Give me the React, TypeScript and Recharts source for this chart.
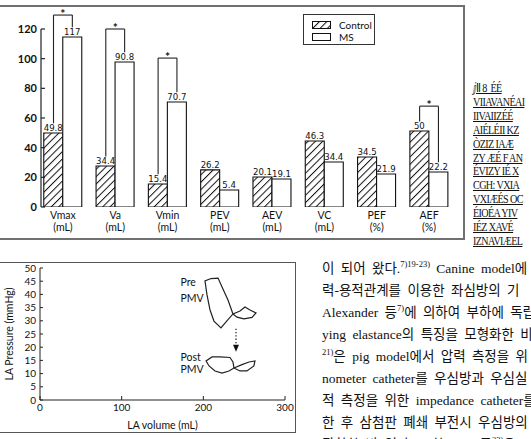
import React from "react";
import {
  BarChart,
  Bar,
  XAxis,
  YAxis,
  LabelList,
  Legend,
  ReferenceLine,
  ReferenceDot,
  ScatterChart,
  Scatter,
} from "recharts";

// top chart: LA volume indices, control vs MS
const categories = ["Vmax", "Va", "Vmin", "PEV", "AEV", "VC", "PEF", "AEF"];
const units = ["(mL)", "(mL)", "(mL)", "(mL)", "(mL)", "(mL)", "(%)", "(%)"];
// bar heights as drawn in the figure
const controlBars = [49.9, 27.6, 15.5, 25.0, 20.2, 44.5, 33.7, 51.2];
const msBars = [114.6, 97.8, 70.8, 11.5, 18.9, 30.3, 22.2, 23.6];
// printed values above the bars
const controlLabels = ["49.8", "34.4", "15.4", "26.2", "20.1", "46.3", "34.5", "50"];
const msLabels = ["117", "90.8", "70.7", "5.4", "19.1", "34.4", "21.9", "22.2"];
// significance brackets
const sigIndex = [0, 1, 2, 7];
const sigTop = [129.4, 120, 100.4, 68];
const yTicks = [0, 20, 40, 60, 80, 100, 120];

// bottom chart: LA pressure-volume loops
const preLoop = [
  { x: 236.3, y: 32.6 }, { x: 230.2, y: 37.9 }, { x: 222.9, y: 42.8 },
  { x: 218, y: 46.2 }, { x: 209.4, y: 46.0 }, { x: 202, y: 45.1 },
  { x: 204.5, y: 39.8 }, { x: 208.2, y: 34.1 }, { x: 213, y: 29.9 },
  { x: 221.6, y: 27.3 }, { x: 228.6, y: 29.9 }, { x: 236.3, y: 32.6 },
  { x: 244.9, y: 33.7 }, { x: 251, y: 35.2 }, { x: 257.1, y: 34.1 },
  { x: 264.5, y: 33.0 }, { x: 259.6, y: 31.3 }, { x: 249.8, y: 30.7 },
  { x: 241.2, y: 31.4 }, { x: 236.3, y: 32.6 },
];
const postLoop = [
  { x: 237.5, y: 12.1 }, { x: 236.3, y: 14.4 }, { x: 232.6, y: 16.1 },
  { x: 220.4, y: 16.3 }, { x: 210.6, y: 16.3 }, { x: 203.3, y: 14.8 },
  { x: 207, y: 12.9 }, { x: 214.3, y: 11.0 }, { x: 222.9, y: 10.2 },
  { x: 231.4, y: 11.0 }, { x: 237.5, y: 12.1 }, { x: 247.3, y: 13.4 },
  { x: 255.9, y: 14.4 }, { x: 263.2, y: 14.8 }, { x: 261.9, y: 12.9 },
  { x: 253.4, y: 11.0 }, { x: 244.9, y: 11.0 }, { x: 237.5, y: 12.1 },
];
const arrowHead = [{ x: 240, y: 19.6 }];
const pvXTicks = [0, 100, 200, 300];
const pvYTicks = [0, 5, 10, 15, 20, 25, 30, 35, 40, 45, 50];

const textLines = [
  ["이 되어 왔다.", "7)19-23)", " Canine model에"],
  ["력-용적관계를 이용한 좌심방의 기"],
  ["Alexander 등", "7)", "에 의하여 부하에 독립적"],
  ["ying elastance의 특징을 모형화한 비"],
  ["", "21)", "은 pig model에서 압력 측정을 위"],
  ["nometer catheter를 우심방과 우심실"],
  ["적 측정을 위한 impedance catheter를"],
  ["한 후 삼첨판 폐쇄 부전시 우심방의 압"],
  ["관찰한 바 있다. 또한 Heitz등", "23)", "은 can"],
];
const garbled = [
  "ⅉⅡ 8  ÉÉ", "VIIAVANÉAI", "IIVAIIZÉÉ", "AIÉLÉII KZ", "ÒZIZ IAÆ",
  "ZY ÆÉ F AN", "ÉVIZY IÉ X", "CGH: VXIA", "VXIÆÉS OC", "ÉIOÉA YIV",
  "IÉZ XAVÉ", "IZNAVIÆEL",
];

const barData = categories.map((c, i) => ({
  pos: i + 0.5,
  name: c,
  control: controlBars[i],
  ms: msBars[i],
  cl: controlLabels[i],
  ml: msLabels[i],
}));

const sansFont = "Lato, 'Open Sans', sans-serif";
const narrowFont = "'Liberation Sans Narrow', 'DejaVu Sans Condensed', sans-serif";
const xDomain = [0.081, 8.073];
const legOff = 0.18;

const EmptyTick = () => <g />;

const CatTick = (props: any) => {
  const { x, y, payload } = props;
  const i = Math.round(payload.value - 0.5);
  return (
    <g fontFamily={sansFont} fontSize={10.5} fill="#111">
      <text x={x} y={y + 12} textAnchor="middle">{categories[i]}</text>
      <text x={x} y={y + 24} textAnchor="middle">{units[i]}</text>
    </g>
  );
};

const LegendBox = () => (
  <div
    style={{
      width: 72,
      height: 31,
      boxSizing: "border-box",
      border: "1px solid #333",
      background: "#fff",
      fontFamily: sansFont,
      fontSize: 10,
      color: "#111",
      padding: "4px 0 0 8px",
      lineHeight: "12px",
    }}
  >
    {["Control", "MS"].map((n, k) => (
      <div key={n} style={{ display: "flex", alignItems: "center", height: 12 }}>
        <svg width={19} height={8} style={{ marginRight: 8 }}>
          <rect x={0.5} y={0.5} width={18} height={7} fill={k === 0 ? "url(#hatch)" : "#fff"} stroke="#111" />
        </svg>
        <span>{n}</span>
      </div>
    ))}
  </div>
);

const ArrowShape = (props: any) => {
  const { cx, cy } = props;
  return <path d={`M${cx - 3},${cy - 3.5} L${cx + 3},${cy - 3.5} L${cx},${cy + 3.5} Z`} fill="#111" />;
};

function TopChart() {
  return (
    <BarChart
      width={531}
      height={245}
      data={barData}
      margin={{ top: 29, right: 72, bottom: 0, left: 0 }}
      barGap={0}
      barSize={19}
    >
      <defs>
        <pattern id="hatch" patternUnits="userSpaceOnUse" width={5.2} height={5.2} patternTransform="rotate(45)">
          <rect width={5.2} height={5.2} fill="#fff" />
          <line x1={0} y1={0} x2={0} y2={5.2} stroke="#111" strokeWidth={2} />
        </pattern>
      </defs>
      <XAxis
        type="number"
        dataKey="pos"
        domain={xDomain}
        allowDataOverflow
        ticks={[1, 2, 3, 4, 5, 6, 7, 8]}
        interval={0}
        tick={EmptyTick}
        tickSize={-4}
        height={0}
        axisLine={{ stroke: "#222", strokeWidth: 1.2 }}
        tickLine={{ stroke: "#222", strokeWidth: 1.2 }}
      />
      <XAxis
        xAxisId="lab"
        type="number"
        dataKey="pos"
        domain={xDomain}
        allowDataOverflow
        ticks={barData.map((d) => d.pos)}
        interval={0}
        tick={<CatTick />}
        tickLine={false}
        axisLine={false}
        tickSize={0}
        tickMargin={0}
        height={38}
      />
      <YAxis
        domain={[0, 120]}
        ticks={yTicks}
        interval={0}
        allowDataOverflow
        width={41}
        tickSize={-4}
        tickMargin={8}
        axisLine={{ stroke: "#222", strokeWidth: 1.2 }}
        tickLine={{ stroke: "#222", strokeWidth: 1.2 }}
        tick={{ fontSize: 11, fontWeight: 700, fill: "#111", fontFamily: sansFont }}
      />
      <Legend
        layout="horizontal"
        verticalAlign="middle"
        align="center"
        content={() => <LegendBox />}
        wrapperStyle={{ position: "absolute", left: 303, top: 14, width: 72, height: 31 }}
      />
      <Bar dataKey="control" fill="url(#hatch)" stroke="#111" strokeWidth={1.1} isAnimationActive={false}>
        <LabelList dataKey="cl" position="top" offset={2} style={{ fontSize: 9.5, fontFamily: narrowFont, fill: "#111" }} />
      </Bar>
      <Bar dataKey="ms" fill="#fff" stroke="#111" strokeWidth={1.1} isAnimationActive={false}>
        <LabelList dataKey="ml" position="top" offset={2} style={{ fontSize: 9.5, fontFamily: narrowFont, fill: "#111" }} />
      </Bar>
      {sigIndex.map((i, k) => {
        const xl = i + 0.5 - legOff;
        const xr = i + 0.5 + legOff;
        const top = sigTop[k];
        return [
          <ReferenceLine key={`l${k}`} ifOverflow="visible" stroke="#222" strokeWidth={1.1}
            segment={[{ x: xl, y: controlBars[i] + 6.5 }, { x: xl, y: top }]} />,
          <ReferenceLine key={`t${k}`} ifOverflow="visible" stroke="#222" strokeWidth={1.1}
            segment={[{ x: xl, y: top }, { x: xr, y: top }]} />,
          <ReferenceLine key={`r${k}`} ifOverflow="visible" stroke="#222" strokeWidth={1.1}
            segment={[{ x: xr, y: top }, { x: xr, y: msBars[i] + 6.5 }]} />,
          <ReferenceDot key={`s${k}`} x={i + 0.5} y={top} r={0} ifOverflow="visible"
            label={{ value: "*", position: "top", offset: -3, fontSize: 12, fontWeight: 700, fill: "#111", fontFamily: sansFont }} />,
        ];
      })}
    </BarChart>
  );
}

function PVChart() {
  const lab = { fontSize: 10.5, fill: "#111", fontFamily: sansFont };
  return (
    <ScatterChart width={300} height={189} margin={{ top: 18, right: 15, bottom: 0, left: 0 }}>
      <XAxis
        type="number"
        dataKey="x"
        domain={[0, 300]}
        ticks={pvXTicks}
        interval={0}
        height={39}
        tickSize={-4}
        tickMargin={8}
        axisLine={{ stroke: "#222" }}
        tickLine={{ stroke: "#222" }}
        tick={{ fontSize: 10, fill: "#111", fontFamily: sansFont }}
        label={{ value: "LA volume (mL)", position: "insideBottom", offset: 10, ...lab }}
      />
      <YAxis
        type="number"
        dataKey="y"
        domain={[0, 50]}
        ticks={pvYTicks}
        interval={0}
        width={40}
        tickSize={-3}
        tickMargin={7}
        axisLine={{ stroke: "#222" }}
        tickLine={{ stroke: "#222" }}
        tick={{ fontSize: 10, fill: "#111", fontFamily: sansFont }}
        label={{ value: "LA Pressure (mmHg)", angle: -90, position: "insideLeft", offset: 9, style: { textAnchor: "middle" }, ...lab }}
      />
      <Scatter data={preLoop} line={{ stroke: "#222", strokeWidth: 1.2 }} shape={EmptyTick} isAnimationActive={false} />
      <Scatter data={postLoop} line={{ stroke: "#222", strokeWidth: 1.2 }} shape={EmptyTick} isAnimationActive={false} />
      <ReferenceLine segment={[{ x: 240, y: 27 }, { x: 240, y: 21.5 }]} stroke="#222" strokeWidth={1.3} strokeDasharray="1.3 2" />
      <Scatter data={arrowHead} shape={ArrowShape} isAnimationActive={false} />
      <ReferenceDot x={172} y={44.5} r={0} label={{ value: "Pre", position: "right", offset: 0, ...lab }} />
      <ReferenceDot x={172} y={38.5} r={0} label={{ value: "PMV", position: "right", offset: 0, ...lab }} />
      <ReferenceDot x={172} y={16} r={0} label={{ value: "Post", position: "right", offset: 0, ...lab }} />
      <ReferenceDot x={172} y={11.5} r={0} label={{ value: "PMV", position: "right", offset: 0, ...lab }} />
    </ScatterChart>
  );
}

export default function App() {
  return (
    <div style={{ position: "fixed", left: 0, top: 0, width: 531, height: 439, overflow: "hidden", background: "#fff" }}>
      <div style={{ position: "absolute", left: -10, top: 5, width: 475, height: 235, boxSizing: "border-box", border: "2px solid #707070" }} />
      <div style={{ position: "absolute", left: -10, top: 262, width: 306, height: 171, boxSizing: "border-box", border: "1.5px solid #555" }} />
      <div style={{ position: "absolute", left: 0, top: 0 }}>
        <TopChart />
      </div>
      <div style={{ position: "absolute", left: 0, top: 250 }}>
        <PVChart />
      </div>
      <div style={{ position: "absolute", left: 473, top: 81, fontFamily: "'Liberation Serif', serif", fontSize: 13, lineHeight: "13.9px", color: "#111", whiteSpace: "pre", letterSpacing: -0.8, textDecoration: "underline", transform: "scaleX(0.78)", transformOrigin: "0 0" }}>
        {garbled.map((g, k) => <div key={k}>{g}</div>)}
      </div>
      <div style={{ position: "absolute", left: 322, top: 258, fontFamily: "'Liberation Serif', 'Noto Sans CJK KR', serif", fontSize: 13.5, lineHeight: "22px", color: "#111", whiteSpace: "pre", wordSpacing: 3 }}>
        {textLines.map((parts, k) => (
          <div key={k}>
            {parts[0]}
            {parts.length > 1 && <sup style={{ fontSize: 8.5, verticalAlign: "6px", lineHeight: 0 }}>{parts[1]}</sup>}
            {parts.length > 2 && parts[2]}
          </div>
        ))}
      </div>
    </div>
  );
}
